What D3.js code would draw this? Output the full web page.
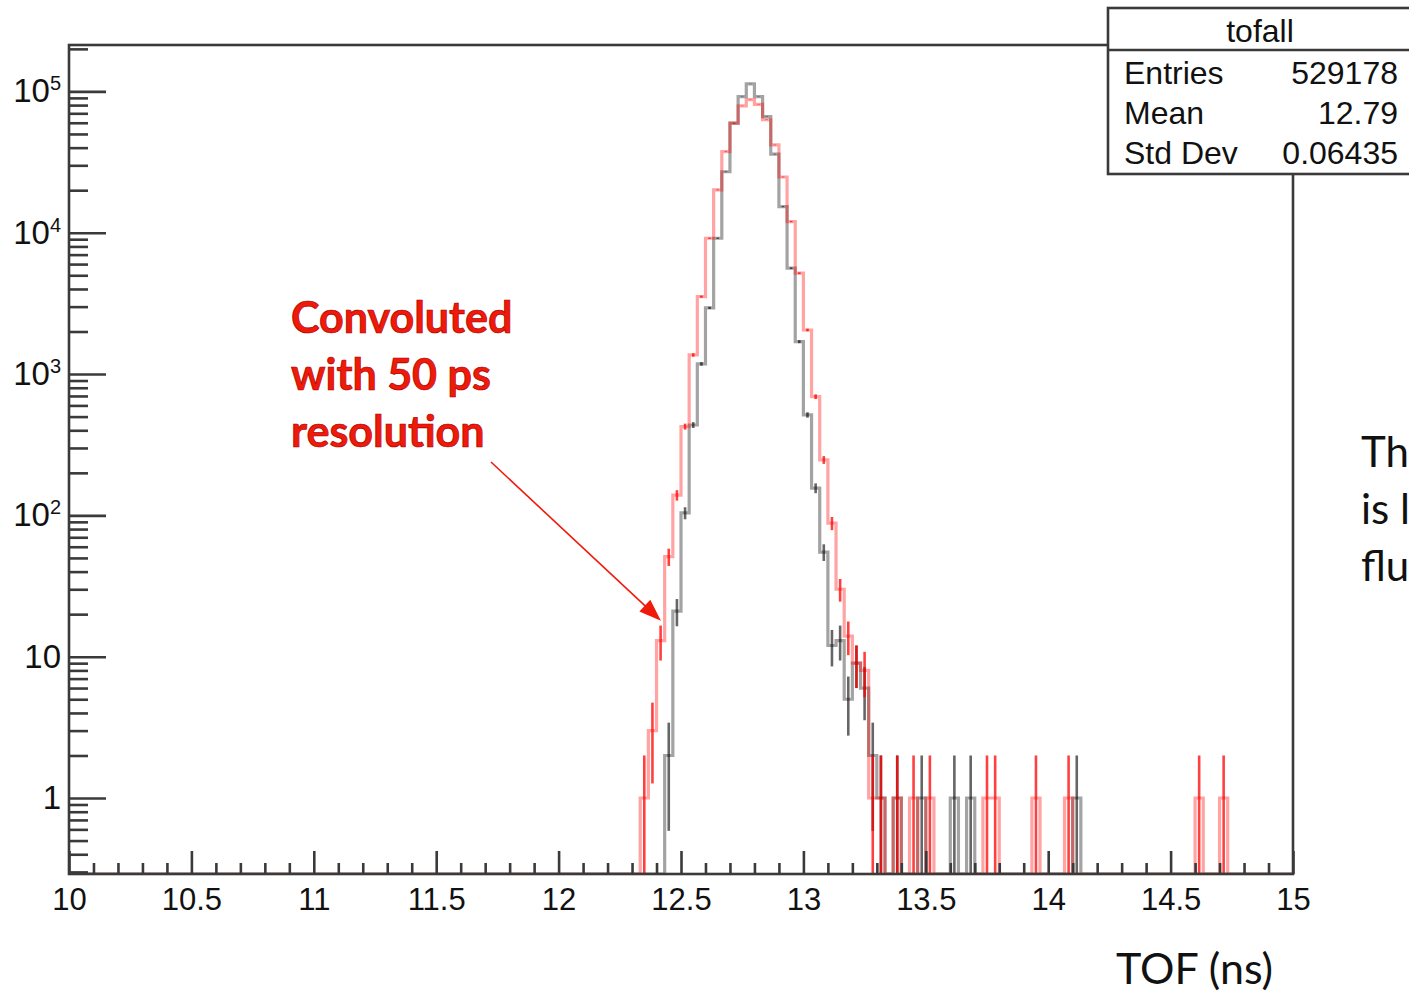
<!DOCTYPE html>
<html><head><meta charset="utf-8">
<script src="https://cdn.jsdelivr.net/npm/d3@7"></script>
<style>body{margin:0;background:#fff;overflow:hidden;} svg{display:block;}</style>
</head><body>
<svg id="c" width="1409" height="994"></svg>
<script>
// ---------------- data ----------------
const xMin = 10, xMax = 15, nBins = 150;
const xTickValues = [10, 10.5, 11, 11.5, 12, 12.5, 13, 13.5, 14, 14.5, 15];
const xTickLabels = ["10","10.5","11","11.5","12","12.5","13","13.5","14","14.5","15"];
const yTickValues = [1, 10, 100, 1000, 10000, 100000];
const yTickBase = ["1","10","10","10","10","10"];
const yTickExp  = ["","","2","3","4","5"];

// black: original TOF histogram (contiguous bins starting at blackStartBin)
const blackStartBin = 73;
const blackCounts = [2,21,104,436,1180,2940,9140,27000,59600,92000,113000,92000,66400,36000,15300,5610,1695,514,156,55,12,13,5,9,6,2,1];
const blackTailBins = [101,104,108,110,123];   // single-entry bins
// red: convoluted with 50 ps resolution
const redStartBin = 70;
const redCounts = [1,3,13,51,139,425,1365,3530,9140,20100,37500,59600,79000,87500,81000,63000,41800,24800,12000,5170,2050,692,247,88,30,14,9,8,1,1];
const redTailBins = [101,103,105,112,113,118,122,138,141];

const statsTitle = "tofall";
const statsLabels = ["Entries","Mean","Std Dev"];
const statsValues = ["529178","12.79","0.06435"];

const annotLines = ["Convoluted","with 50 ps","resolution"];
const arrowTip = [12.418, 18];
const sideLines = ["Th","is l","flu"];
const axisTitle = "TOF (ns)";

// ---------------- layout ----------------
const L = 69, R = 1293, T = 45, B = 874;
const svg = d3.select("#c");
const x = d3.scaleLinear().domain([xMin, xMax]).range([L, R]);
const y = d3.scaleLog().domain([0.29, 2.13e5]).range([B, T]);
const binW = (xMax - xMin) / nBins;

function fullHist(start, counts, tails) {
  const h = new Array(nBins).fill(0);
  counts.forEach((c, k) => { h[start + k] = c; });
  tails.forEach(b => { h[b] += 1; });
  return h;
}
const black = fullHist(blackStartBin, blackCounts, blackTailBins);
const red = fullHist(redStartBin, redCounts, redTailBins);

svg.append("defs").append("clipPath").attr("id", "frame")
  .append("rect").attr("x", L).attr("y", T).attr("width", R - L).attr("height", B - T);

const plot = svg.append("g").attr("clip-path", "url(#frame)");

function stepPath(h) {
  const p = d3.path();
  p.moveTo(x(xMin), B + 2);
  h.forEach((c, i) => {
    const yy = c > 0 ? y(c) : B;
    p.lineTo(x(xMin + i * binW), yy);
    p.lineTo(x(xMin + (i + 1) * binW), yy);
  });
  p.lineTo(x(xMax), B + 2);
  return p.toString();
}
function errBars(g, h, color, op) {
  const pts = h.map((c, i) => ({c, i})).filter(d => d.c > 0);
  g.selectAll(null).data(pts).enter().append("line")
    .attr("x1", d => x(xMin + (d.i + 0.5) * binW))
    .attr("x2", d => x(xMin + (d.i + 0.5) * binW))
    .attr("y1", d => { const lo = d.c - Math.sqrt(d.c); return lo > 0.29 ? y(lo) : B + 2; })
    .attr("y2", d => y(d.c + Math.sqrt(d.c)))
    .attr("stroke", color).attr("stroke-opacity", op).attr("stroke-width", 2.6);
}

plot.append("path").attr("d", stepPath(black)).attr("fill", "none")
  .attr("stroke", "#000").attr("stroke-opacity", 0.36).attr("stroke-width", 3.2);
plot.append("path").attr("d", stepPath(red)).attr("fill", "none")
  .attr("stroke", "#ff0000").attr("stroke-opacity", 0.36).attr("stroke-width", 3.2);
errBars(plot.append("g"), black, "#000", 0.6);
errBars(plot.append("g"), red, "#ff0000", 0.75);

// ---------------- axes ----------------
const axisColor = "#3a3a3a";
const fontAxis = "'Liberation Sans', Arial, Helvetica, sans-serif";

// x axis
const xMinor = d3.range(0, 51).map(k => xMin + k * 0.1).filter(v => Math.abs(v * 2 - Math.round(v * 2)) > 1e-6);
const gxMinor = svg.append("g").attr("transform", `translate(0,${B})`)
  .call(d3.axisBottom(x).tickValues(xMinor).tickSizeInner(-11).tickSizeOuter(0).tickFormat(""));
const gx = svg.append("g").attr("transform", `translate(0,${B})`)
  .call(d3.axisBottom(x).tickValues(xTickValues).tickSizeInner(-23).tickSizeOuter(0).tickPadding(14)
    .tickFormat((d, i) => xTickLabels[i]));
[gxMinor, gx].forEach(g => {
  g.select(".domain").remove();
  g.selectAll("line").attr("stroke", axisColor).attr("stroke-width", 2.6);
});
gx.selectAll("text").attr("font-family", fontAxis).attr("font-size", 31).attr("fill", "#111");

// y axis
const yMinor = [];
[0.1, 1, 10, 100, 1000, 10000, 100000].forEach(d => {
  for (let m = 2; m <= 9; m++) { const v = m * d; if (v >= 0.29 && v <= 2.13e5) yMinor.push(v); }
});
const gyMinor = svg.append("g").attr("transform", `translate(${L},0)`)
  .call(d3.axisLeft(y).tickValues(yMinor).tickSizeInner(-19).tickSizeOuter(0).tickFormat(""));
const gy = svg.append("g").attr("transform", `translate(${L},0)`)
  .call(d3.axisLeft(y).tickValues(yTickValues).tickSizeInner(-37).tickSizeOuter(0).tickPadding(8)
    .tickFormat((d, i) => yTickBase[i]));
[gyMinor, gy].forEach(g => {
  g.select(".domain").remove();
  g.selectAll("line").attr("stroke", axisColor).attr("stroke-width", 2.6);
});
gy.selectAll("text").each(function(d, i) {
  const t = d3.select(this).attr("font-family", fontAxis).attr("font-size", 33).attr("fill", "#111");
  if (yTickExp[i]) {
    t.attr("x", -8).text(yTickBase[i]);
    t.append("tspan").attr("font-size", 20).attr("dy", "-0.6em").text(yTickExp[i]);
  }
});

// frame
svg.append("rect").attr("x", L).attr("y", T).attr("width", R - L).attr("height", B - T)
  .attr("fill", "none").attr("stroke", axisColor).attr("stroke-width", 2.6);

// ---------------- stats box ----------------
const sb = svg.append("g");
sb.append("rect").attr("x", 1108).attr("y", 8).attr("width", 330).attr("height", 166)
  .attr("fill", "#fff").attr("stroke", axisColor).attr("stroke-width", 2.6);
sb.append("line").attr("x1", 1108).attr("x2", 1420).attr("y1", 50).attr("y2", 50)
  .attr("stroke", axisColor).attr("stroke-width", 2.6);
sb.append("text").attr("x", 1260).attr("y", 42).attr("text-anchor", "middle")
  .attr("font-family", fontAxis).attr("font-size", 32).attr("fill", "#111").text(statsTitle);
statsLabels.forEach((lab, i) => {
  const by = 84 + i * 40;
  sb.append("text").attr("x", 1124).attr("y", by).attr("font-family", fontAxis)
    .attr("font-size", 32).attr("fill", "#111").text(lab);
  sb.append("text").attr("x", 1398).attr("y", by).attr("text-anchor", "end").attr("font-family", fontAxis)
    .attr("font-size", 32).attr("fill", "#111").text(statsValues[i]);
});

// ---------------- annotations ----------------
const fontNote = "Lato, 'Open Sans', sans-serif";
annotLines.forEach((s, i) => {
  svg.append("text").attr("x", 291).attr("y", 333 + i * 57)
    .attr("font-family", fontNote).attr("font-weight", 700).attr("font-size", 43)
    .attr("fill", "#f01a0a").attr("stroke", "#a80000").attr("stroke-width", 0.7)
    .text(s);
});
// arrow
const sx = 491, sy = 462;
const tx = x(arrowTip[0]), ty = y(arrowTip[1]);
const dx = tx - sx, dy = ty - sy, len = Math.hypot(dx, dy);
const ux = dx / len, uy = dy / len;
const hl = 22, hw = 8;
svg.append("line").attr("x1", sx).attr("y1", sy).attr("x2", tx - ux * hl * 0.8).attr("y2", ty - uy * hl * 0.8)
  .attr("stroke", "#f01a0a").attr("stroke-width", 1.6);
svg.append("path").attr("d",
  `M${tx},${ty} L${tx - ux*hl - uy*hw},${ty - uy*hl + ux*hw} L${tx - ux*hl + uy*hw},${ty - uy*hl - ux*hw} Z`)
  .attr("fill", "#f01a0a");

sideLines.forEach((s, i) => {
  svg.append("text").attr("x", 1361).attr("y", 467 + i * 57)
    .attr("font-family", fontNote).attr("font-size", 42).attr("fill", "#111").text(s);
});
svg.append("text").attr("x", 1116).attr("y", 984)
  .attr("font-family", fontNote).attr("font-size", 43).attr("fill", "#111").text(axisTitle);
</script>
</body></html>
